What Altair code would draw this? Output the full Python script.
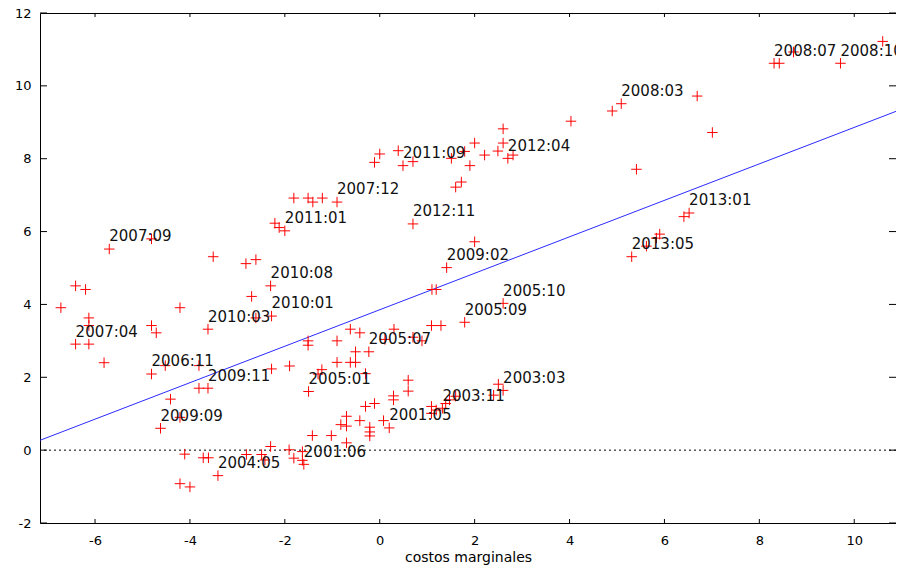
import altair as alt
import pandas as pd

# scatter points (costos marginales vs. value)
xs = [-6.72, -6.41, -6.20, -6.13, -6.13, -6.41, -6.13, -5.81, -5.70, -4.81,
      -4.81, -4.71, -4.21, -3.62, -3.51, -4.52, -4.81, -3.81, -3.81, -3.62,
      -4.41, -4.21, -4.62, -4.11, -4.21, -4.00, -3.72, -3.61, -3.41, -2.81,
      -2.49, -2.42, -2.30, -2.82, -2.61, -2.30, -2.70, -2.61, -2.28, -2.28,
      -1.90, -2.21, -2.12, -2.00, -1.81, -1.51, -1.41, -1.21, -0.90,
      -1.51, -1.51, -0.90, -0.62, -0.42, -0.51, -0.23, -0.90, -0.62, -0.51,
      -1.22, -1.30, -0.30, -1.50, 0.30, 0.11, 0.70, 0.89, 1.09, 1.29,
      1.79, 2.60, 1.10, 1.19, 1.41, 2.00, 0.70,
      0.60, 0.60, 0.29, 0.29, -0.11, -0.30, -0.42, 0.08, 0.20, -0.70,
      -0.82, -0.70, -0.21, -0.21, -0.21, -1.02, -1.42, -0.70, -1.91, -1.81,
      -1.63, -1.63, -1.60, 1.09, 1.09, 1.19, 1.32, 1.39, 1.47, 1.60,
      2.40, 2.50, 2.60,
      -0.11, 0.00, 0.39, 0.49, 0.70, 1.51, 1.60, 1.72, 1.79, 1.90,
      2.00, 2.21, 2.49, 2.60, 2.60, 2.70, 2.81, 4.03, 4.90, 5.09,
      6.69, 7.01, 5.41, 6.41, 6.52, 5.83, 5.90, 5.62, 5.31, 8.31,
      8.42, 8.72, 9.71, 10.60]
ys = [3.91, 4.51, 4.41, 3.63, 3.42, 2.91, 2.91, 2.40, 5.52, 5.80,
      3.42, 3.22, 3.91, 3.32, 5.31, 2.32, 2.09, 2.32, 1.70, 1.70,
      1.40, 0.90, 0.60, -0.11, -0.92, -1.01, -0.21, -0.21, -0.70, -0.12,
      -0.12, -0.27, 0.10, 5.12, 5.23, 4.51, 4.22, 3.63, 3.68, 2.23,
      2.31, 6.23, 6.11, 6.02, 6.92, 6.92, 6.81, 6.92, 6.81,
      3.00, 2.88, 3.00, 3.32, 3.22, 2.70, 2.70, 2.41, 2.41, 2.41,
      2.21, 2.09, 2.10, 1.61, 3.32, 3.04, 3.10, 3.00, 3.42, 3.42,
      3.51, 4.03, 4.41, 4.41, 5.01, 5.72, 6.21,
      1.92, 1.62, 1.49, 1.38, 1.28, 1.20, 0.81, 0.81, 0.61, 0.93,
      0.70, 0.66, 0.63, 0.50, 0.39, 0.40, 0.40, 0.20, 0.01, -0.22,
      -0.04, -0.28, -0.39, 1.20, 1.01, 1.10, 1.15, 1.28, 1.38, 1.48,
      1.51, 1.81, 1.64,
      7.90, 8.13, 8.22, 7.81, 7.92, 8.01, 7.22, 7.36, 8.20, 7.81,
      8.43, 8.10, 8.21, 8.43, 8.82, 8.01, 8.10, 9.03, 9.31, 9.51,
      9.72, 8.72, 7.71, 6.41, 6.51, 5.82, 5.93, 5.60, 5.31, 10.62,
      10.62, 10.93, 10.62, 11.22]
point_labels = ["", "", "", "", "", "2007:04", "", "", "2007:09", "",
                "", "", "", "2010:03", "", "", "2006:11", "", "", "2009:11",
                "", "", "2009:09", "", "", "", "", "", "2004:05", "",
                "", "", "", "", "", "2010:08", "", "", "2010:01", "",
                "", "", "", "2011:01", "", "", "", "", "2007:12",
                "", "", "", "", "", "", "2005:07", "", "", "",
                "", "", "", "2005:01", "", "", "", "", "", "",
                "2005:09", "2005:10", "", "", "2009:02", "", "2012:11",
                "", "", "", "", "", "", "", "", "2001:05", "",
                "", "", "", "", "", "", "", "", "", "",
                "", "", "2001:06", "", "", "", "2003:11", "", "", "",
                "", "", "2003:03",
                "", "", "", "2011:09", "", "", "", "", "", "",
                "", "", "", "", "", "2012:04", "", "", "", "2008:03",
                "", "", "", "", "2013:01", "", "", "", "2013:05", "2008:07",
                "", "", "2008:10", ""]

# fitted line end points
line_x = [-7.16, 10.88]
line_y = [0.27, 9.30]

x_ticks = [-6, -4, -2, 0, 2, 4, 6, 8, 10]
y_ticks = [-2, 0, 2, 4, 6, 8, 10, 12]
x_domain = [-7.16, 10.88]
y_domain = [-2, 12]

W, H = 856, 510

df = pd.DataFrame({"x": xs, "y": ys, "label": point_labels})
xscale = alt.Scale(domain=x_domain, nice=False, zero=False)
yscale = alt.Scale(domain=y_domain, nice=False, zero=False)

xenc = alt.X("x:Q", scale=xscale,
             axis=alt.Axis(values=x_ticks, labelExpr="'' + datum.value",
                           title="costos marginales"))
yenc = alt.Y("y:Q", scale=yscale,
             axis=alt.Axis(values=y_ticks, labelExpr="'' + datum.value",
                           title=None))

points = alt.Chart(df).mark_point(
    shape="M-1,0L1,0M0,-1L0,1", size=110, filled=False,
    color="#ff0000", strokeWidth=1, opacity=1
).encode(x=xenc, y=yenc)

labels = alt.Chart(df).transform_filter("datum.label != ''").mark_text(
    align="left", baseline="middle", dy=-12.6, fontSize=15,
    font="DejaVu Sans", color="#111111"
).encode(x=xenc, y=yenc, text="label:N")

fit = alt.Chart(pd.DataFrame({"x": line_x, "y": line_y})).mark_line(
    color="#2a2aff", strokeWidth=1
).encode(x=xenc, y=yenc)

zero = alt.Chart(pd.DataFrame({"y": [0]})).mark_rule(
    color="black", strokeWidth=1, strokeDash=[2, 3]
).encode(y=yenc)

xt = pd.DataFrame({"x": x_ticks})
yt = pd.DataFrame({"y": y_ticks})
xt_bot = alt.Chart(xt).mark_rule(color="black", strokeWidth=1).encode(
    x=xenc, y=alt.value(H), y2=alt.value(H - 4))
xt_top = alt.Chart(xt).mark_rule(color="black", strokeWidth=1).encode(
    x=xenc, y=alt.value(0), y2=alt.value(4))
yt_left = alt.Chart(yt).mark_rule(color="black", strokeWidth=1).encode(
    y=yenc, x=alt.value(0), x2=alt.value(7))
yt_right = alt.Chart(yt).mark_rule(color="black", strokeWidth=1).encode(
    y=yenc, x=alt.value(W), x2=alt.value(W - 7))

chart = alt.layer(zero, fit, xt_bot, xt_top, yt_left, yt_right, points, labels).properties(
    width=W, height=H,
    autosize=alt.AutoSizeParams(type="none"),
    padding={"left": 32, "top": 5, "right": 0, "bottom": 42},
).configure_view(
    stroke="black", strokeWidth=1
).configure_axis(
    grid=False, domain=False, ticks=False,
    labelFont="DejaVu Sans", labelFontSize=13, labelColor="black",
    titleFont="DejaVu Sans", titleFontSize=14, titleFontWeight="normal",
    titleColor="black"
).configure_axisX(
    labelPadding=11, titlePadding=3
).configure_axisY(
    labelPadding=9
)

chart.save("out.html", embed_options={"renderer": "svg", "actions": False})
